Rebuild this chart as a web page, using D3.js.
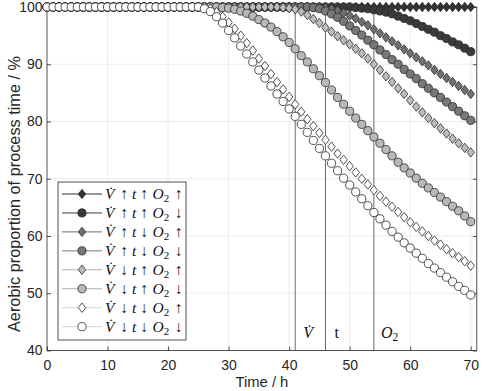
<!DOCTYPE html>
<html><head><meta charset="utf-8">
<script src="https://cdn.jsdelivr.net/npm/d3@7"></script>
<style>body{margin:0;background:#fff}svg{display:block}</style>
</head><body>
<script>
const hours = d3.range(0, 71);
const xTicks = [0,10,20,30,40,50,60,70];
const yTicks = [40,50,60,70,80,90,100];
const markerLines = [41, 46, 54];

const s1 = [100,100,100,100,100,100,100,100,100,100,
100,100,100,100,100,100,100,100,100,100,
100,100,100,100,100,100,100,100,100,100,
100,100,100,100,100,100,100,100,100,100,
100,100,100,100,100,100,100,100,100,100,
100,100,100,100,100,100,100,100,100,100,
100,100,100,100,100,100,100,100,100,100,
100];
const s2 = [100,100,100,100,100,100,100,100,100,100,
100,100,100,100,100,100,100,100,100,100,
100,100,100,100,100,100,100,100,100,100,
100,100,100,100,100,100,100,100,100,100,
100,100,100,100,100,100,100,100,100,100,
100,99.9,99.8,99.7,99.5,99.3,99.1,98.8,98.4,98.0,
97.6,97.1,96.6,96.1,95.6,95.0,94.5,93.9,93.4,92.8,
92.2];
const s3 = [100,100,100,100,100,100,100,100,100,100,
100,100,100,100,100,100,100,100,100,100,
100,100,100,100,100,100,100,100,100,100,
100,100,100,100,100,100,100,100,100,100,
100,100,100,100,100,100,99.9,99.7,99.4,99.0,
98.5,98.0,97.4,96.8,96.1,95.4,94.7,94.0,93.3,92.6,
91.9,91.2,90.5,89.8,89.0,88.3,87.6,86.9,86.2,85.5,
84.8];
const s4 = [100,100,100,100,100,100,100,100,100,100,
100,100,100,100,100,100,100,100,100,100,
100,100,100,100,100,100,100,100,100,100,
100,100,100,100,100,100,100,100,100,100,
100,100,100,100,99.9,99.7,99.3,98.8,98.2,97.5,
96.7,95.9,95.1,94.2,93.4,92.5,91.7,90.8,90.0,89.1,
88.3,87.5,86.6,85.8,85.0,84.2,83.4,82.6,81.8,81.0,
80.2];
const s5 = [100,100,100,100,100,100,100,100,100,100,
100,100,100,100,100,100,100,100,100,100,
100,100,100,100,100,100,100,100,100,100,
100,100,100,100,100,100,100,100,100,99.9,
99.8,99.6,99.2,98.6,97.9,97.2,96.4,95.7,94.9,94.2,
93.5,92.7,91.9,91.0,90.0,89.0,87.9,86.9,85.8,84.8,
83.7,82.6,81.6,80.6,79.7,78.8,77.9,77.0,76.2,75.4,
74.6];
const s6 = [100,100,100,100,100,100,100,100,100,100,
100,100,100,100,100,100,100,100,100,100,
100,100,100,100,100,100,100,100,100,99.9,
99.8,99.6,99.3,98.9,98.4,97.8,97.2,96.5,95.7,94.8,
93.8,92.7,91.5,90.4,89.2,88.0,86.8,85.5,84.2,83.0,
81.8,80.6,79.5,78.4,77.3,76.2,75.1,74.0,72.9,71.9,
71.0,70.1,69.2,68.4,67.6,66.8,66.0,65.2,64.4,63.5,
62.5];
const s7 = [100,100,100,100,100,100,100,100,100,100,
100,100,100,100,100,100,100,100,100,100,
100,100,100,100,100,100,100,99.7,99.1,98.3,
97.3,96.2,95.0,93.7,92.4,91.0,89.7,88.3,86.9,85.6,
84.3,83.0,81.7,80.4,79.2,78.0,76.8,75.6,74.4,73.3,
72.2,71.1,70.0,69.0,68.0,67.0,66.0,65.1,64.2,63.3,
62.4,61.6,60.8,60.0,59.2,58.5,57.7,57.0,56.3,55.6,
54.8];
const s8 = [100,100,100,100,100,100,100,100,100,100,
100,100,100,100,100,100,100,100,100,100,
100,100,100,100,100,100,99.7,99.2,98.3,97.2,
95.9,94.6,93.2,91.8,90.4,89.0,87.6,86.2,84.8,83.5,
82.2,80.9,79.5,78.1,76.7,75.3,74.0,72.7,71.4,70.1,
68.9,67.7,66.5,65.3,64.1,63.0,61.9,60.8,59.8,58.8,
57.9,57.0,56.1,55.2,54.4,53.6,52.8,52.0,51.2,50.5,
49.7];

// legend arrows: [V, t, O2] up (1) or down (0)
const legendFlags = [[1,1,1],[1,1,0],[1,0,1],[1,0,0],[0,1,1],[0,1,0],[0,0,1],[0,0,0]];
const seriesValues = [s1,s2,s3,s4,s5,s6,s7,s8];
const shapes = ["diamond","circle","diamond","circle","diamond","circle","diamond","circle"];
const fills = ["#333333","#3a3a3a","#707070","#787878","#bdbdbd","#b8b8b8","#ffffff","#ffffff"];
const lineCols = ["#333333","#3a3a3a","#707070","#787878","#b0b0b0","#b0b0b0","#d4d4d4","#d4d4d4"];

const W = 484, H = 391;
const sans = "'Liberation Sans', Arial, sans-serif";
const serif = "'Liberation Serif', 'DejaVu Serif', 'Times New Roman', serif";
const svg = d3.select("body").append("svg").attr("width", W).attr("height", H)
  .style("font-family", sans);

const x = d3.scaleLinear([0, 71], [47, 476.8]);
const y = d3.scaleLinear([40, 100], [350.5, 7]);
const [x0, x1] = x.range(), [y0, y1] = y.range();

// grid
svg.append("g").selectAll("line").data(xTicks.filter(d => d > 0)).join("line")
  .attr("x1", d => x(d)).attr("x2", d => x(d)).attr("y1", y0).attr("y2", y1)
  .attr("stroke", "#e2e2e2").attr("stroke-width", 0.7);
svg.append("g").selectAll("line").data(yTicks.filter(d => d > 40 && d < 100)).join("line")
  .attr("x1", x0).attr("x2", x1).attr("y1", d => y(d)).attr("y2", d => y(d))
  .attr("stroke", "#e2e2e2").attr("stroke-width", 0.7);

// vertical marker lines
svg.append("g").selectAll("line").data(markerLines).join("line")
  .attr("x1", d => x(d)).attr("x2", d => x(d)).attr("y1", y0).attr("y2", y1)
  .attr("stroke", "#6a6a6a").attr("stroke-width", 1);

// axes
const ax = svg.append("g").attr("transform", `translate(0,${y0})`)
  .call(d3.axisBottom(x).tickValues(xTicks).tickSize(-4).tickPadding(9.5).tickSizeOuter(0));
const ay = svg.append("g").attr("transform", `translate(${x0},0)`)
  .call(d3.axisLeft(y).tickValues(yTicks).tickSize(-4).tickPadding(4.5).tickSizeOuter(0));
const axT = svg.append("g").attr("transform", `translate(0,${y1})`)
  .call(d3.axisTop(x).tickValues(xTicks).tickSize(-4).tickFormat("").tickSizeOuter(0));
const ayR = svg.append("g").attr("transform", `translate(${x1},0)`)
  .call(d3.axisRight(y).tickValues(yTicks).tickSize(-4).tickFormat("").tickSizeOuter(0));
[ax, ay, axT, ayR].forEach(g => {
  g.select(".domain").remove();
  g.selectAll("line").attr("stroke", "#262626").attr("stroke-width", 0.8);
  g.selectAll("text").attr("fill", "#262626").style("font-size", "14px")
    .style("font-family", sans);
});
svg.append("rect").attr("x", x0).attr("y", y1).attr("width", x1 - x0).attr("height", y0 - y1)
  .attr("fill", "none").attr("stroke", "#262626").attr("stroke-width", 0.8);

// axis labels
svg.append("text").attr("x", (x0 + x1) / 2).attr("y", 387).attr("text-anchor", "middle")
  .attr("fill", "#262626").style("font-size", "14.8px").text("Time / h");
svg.append("text").attr("transform", "translate(19.5,194) rotate(-90)").attr("text-anchor", "middle")
  .attr("fill", "#262626").style("font-size", "16.3px").text("Aerobic proportion of process time / %");

// symbols
function drawMarker(g, shape, cx, cy, fill) {
  if (shape === "circle") {
    g.append("circle").attr("cx", cx).attr("cy", cy).attr("r", 4.1)
      .attr("fill", fill).attr("stroke", "#2a2a2a").attr("stroke-width", 0.8);
  } else {
    g.append("path").attr("d", `M${cx},${cy-4.7}L${cx+3.7},${cy}L${cx},${cy+4.7}L${cx-3.7},${cy}Z`)
      .attr("fill", fill).attr("stroke", "#2a2a2a").attr("stroke-width", 0.8);
  }
}

const line = d3.line().x(d => x(d[0])).y(d => y(d[1]));
seriesValues.forEach((vals, i) => {
  const g = svg.append("g");
  const pts = hours.map((h, k) => [h, vals[k]]);
  g.append("path").attr("d", line(pts)).attr("fill", "none")
    .attr("stroke", lineCols[i]).attr("stroke-width", 1);
  pts.forEach(p => drawMarker(g, shapes[i], x(p[0]), y(p[1]), fills[i]));
});

// marker line labels
const lab = svg.append("g").style("font-family", serif).attr("fill", "#111").style("font-size", "16px");
lab.append("text").attr("x", x(41) + 8).attr("y", 338).style("font-style", "italic").text("V\u0307");
lab.append("text").attr("x", x(46) + 9).attr("y", 338).text("t");
const o2 = lab.append("text").attr("x", x(54) + 7).attr("y", 338);
o2.append("tspan").style("font-style", "italic").text("O");
o2.append("tspan").attr("dy", 3).style("font-size", "11.5px").text("2");

// legend
const lg = svg.append("g");
lg.append("rect").attr("x", 58).attr("y", 182).attr("width", 128).attr("height", 158)
  .attr("fill", "#fff").attr("stroke", "#262626").attr("stroke-width", 0.8);
legendFlags.forEach((f, i) => {
  const cy = 194 + i * 18.95;
  lg.append("line").attr("x1", 62).attr("x2", 102).attr("y1", cy).attr("y2", cy)
    .attr("stroke", lineCols[i]).attr("stroke-width", 1);
  drawMarker(lg, shapes[i], 82, cy, fills[i]);
  const by = cy + 5;
  const t = lg.append("text").attr("y", by).style("font-family", serif)
    .attr("fill", "#111").style("font-size", "15.5px");
  t.append("tspan").attr("x", 105).style("font-style", "italic").text("V\u0307");
  t.append("tspan").attr("x", 120.5).text(f[0] ? "↑" : "↓");
  t.append("tspan").attr("x", 132).style("font-style", "italic").text("t");
  t.append("tspan").attr("x", 140.5).text(f[1] ? "↑" : "↓");
  t.append("tspan").attr("x", 152.5).style("font-style", "italic").text("O");
  t.append("tspan").attr("dy", 3).style("font-size", "11px").text("2");
  t.append("tspan").attr("x", 175).attr("dy", -3).text(f[2] ? "↑" : "↓");
});
</script>
</body></html>
